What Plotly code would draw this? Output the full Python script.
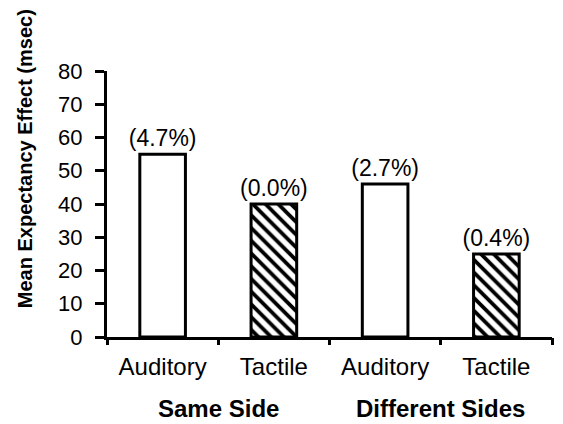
import plotly.graph_objects as go

categories = ["Auditory", "Tactile", "Auditory", "Tactile"]
groups = ["Same Side", "Different Sides"]
values = [55, 40, 46, 25]
pct_labels = ["(4.7%)", "(0.0%)", "(2.7%)", "(0.4%)"]
y_ticks = [0, 10, 20, 30, 40, 50, 60, 70, 80]

xpos = list(range(len(categories)))
FONT = "Liberation Sans, Arial, sans-serif"

fig = go.Figure()
fig.add_trace(go.Bar(
    x=xpos, y=values, width=0.41,
    text=pct_labels, textposition="outside", cliponaxis=False, constraintext="none",
    textfont=dict(family=FONT, size=23, color="black"),
    marker=dict(
        color="white",
        line=dict(color="black", width=3),
        pattern=dict(shape=["", "\\", "", "\\"], fgcolor="black", bgcolor="white",
                     fgopacity=1, size=9, solidity=0.42, fillmode="overlay"),
    ),
    showlegend=False,
))
# boundary ticks on an overlaid axis
fig.add_trace(go.Scatter(x=[-0.5, 3.5], y=[0, 0], xaxis="x2", mode="markers",
                         marker=dict(opacity=0), showlegend=False, hoverinfo="skip"))

fig.update_layout(
    width=555, height=416,
    margin=dict(l=99, r=11, t=63, b=87, autoexpand=False),
    paper_bgcolor="white", plot_bgcolor="white",
    font=dict(family=FONT, color="black"),
    xaxis=dict(range=[-0.5, 3.5], tickvals=xpos, ticktext=categories, ticks="",
               showline=True, linecolor="black", linewidth=3, showgrid=False, zeroline=False,
               automargin=False,
               tickfont=dict(size=24, family=FONT, color="black"), ticklabelstandoff=6),
    xaxis2=dict(range=[-0.5, 3.5], overlaying="x", side="bottom", automargin=False,
                tickvals=[-0.5, 0.5, 1.5, 2.5, 3.5], ticks="outside", ticklen=7, tickwidth=3,
                tickcolor="black", showticklabels=False, showgrid=False, zeroline=False,
                showline=False),
    yaxis=dict(range=[0, 80], tickvals=y_ticks, ticks="outside", ticklen=9, tickwidth=3,
               tickcolor="black", showline=True, linecolor="black", linewidth=3,
               showgrid=False, zeroline=False, automargin=False, ticklabelstandoff=8,
               tickfont=dict(size=22, family=FONT, color="black")),
)

for i, g in enumerate(groups):
    fig.add_annotation(x=0.5 + 2 * i, y=-0.322, xref="x", yref="paper",
                       text=f"<b>{g}</b>", showarrow=False, xanchor="center", yanchor="bottom",
                       borderpad=0,
                       font=dict(size=24, family=FONT, color="black"))

fig.add_annotation(x=-0.184, y=0.669, xref="paper", yref="paper",
                   text="<b>Mean Expectancy Effect (msec)</b>", textangle=-90, showarrow=False,
                   xanchor="center", yanchor="middle",
                   font=dict(size=20, family=FONT, color="black"))

fig.write_html("out.html")
